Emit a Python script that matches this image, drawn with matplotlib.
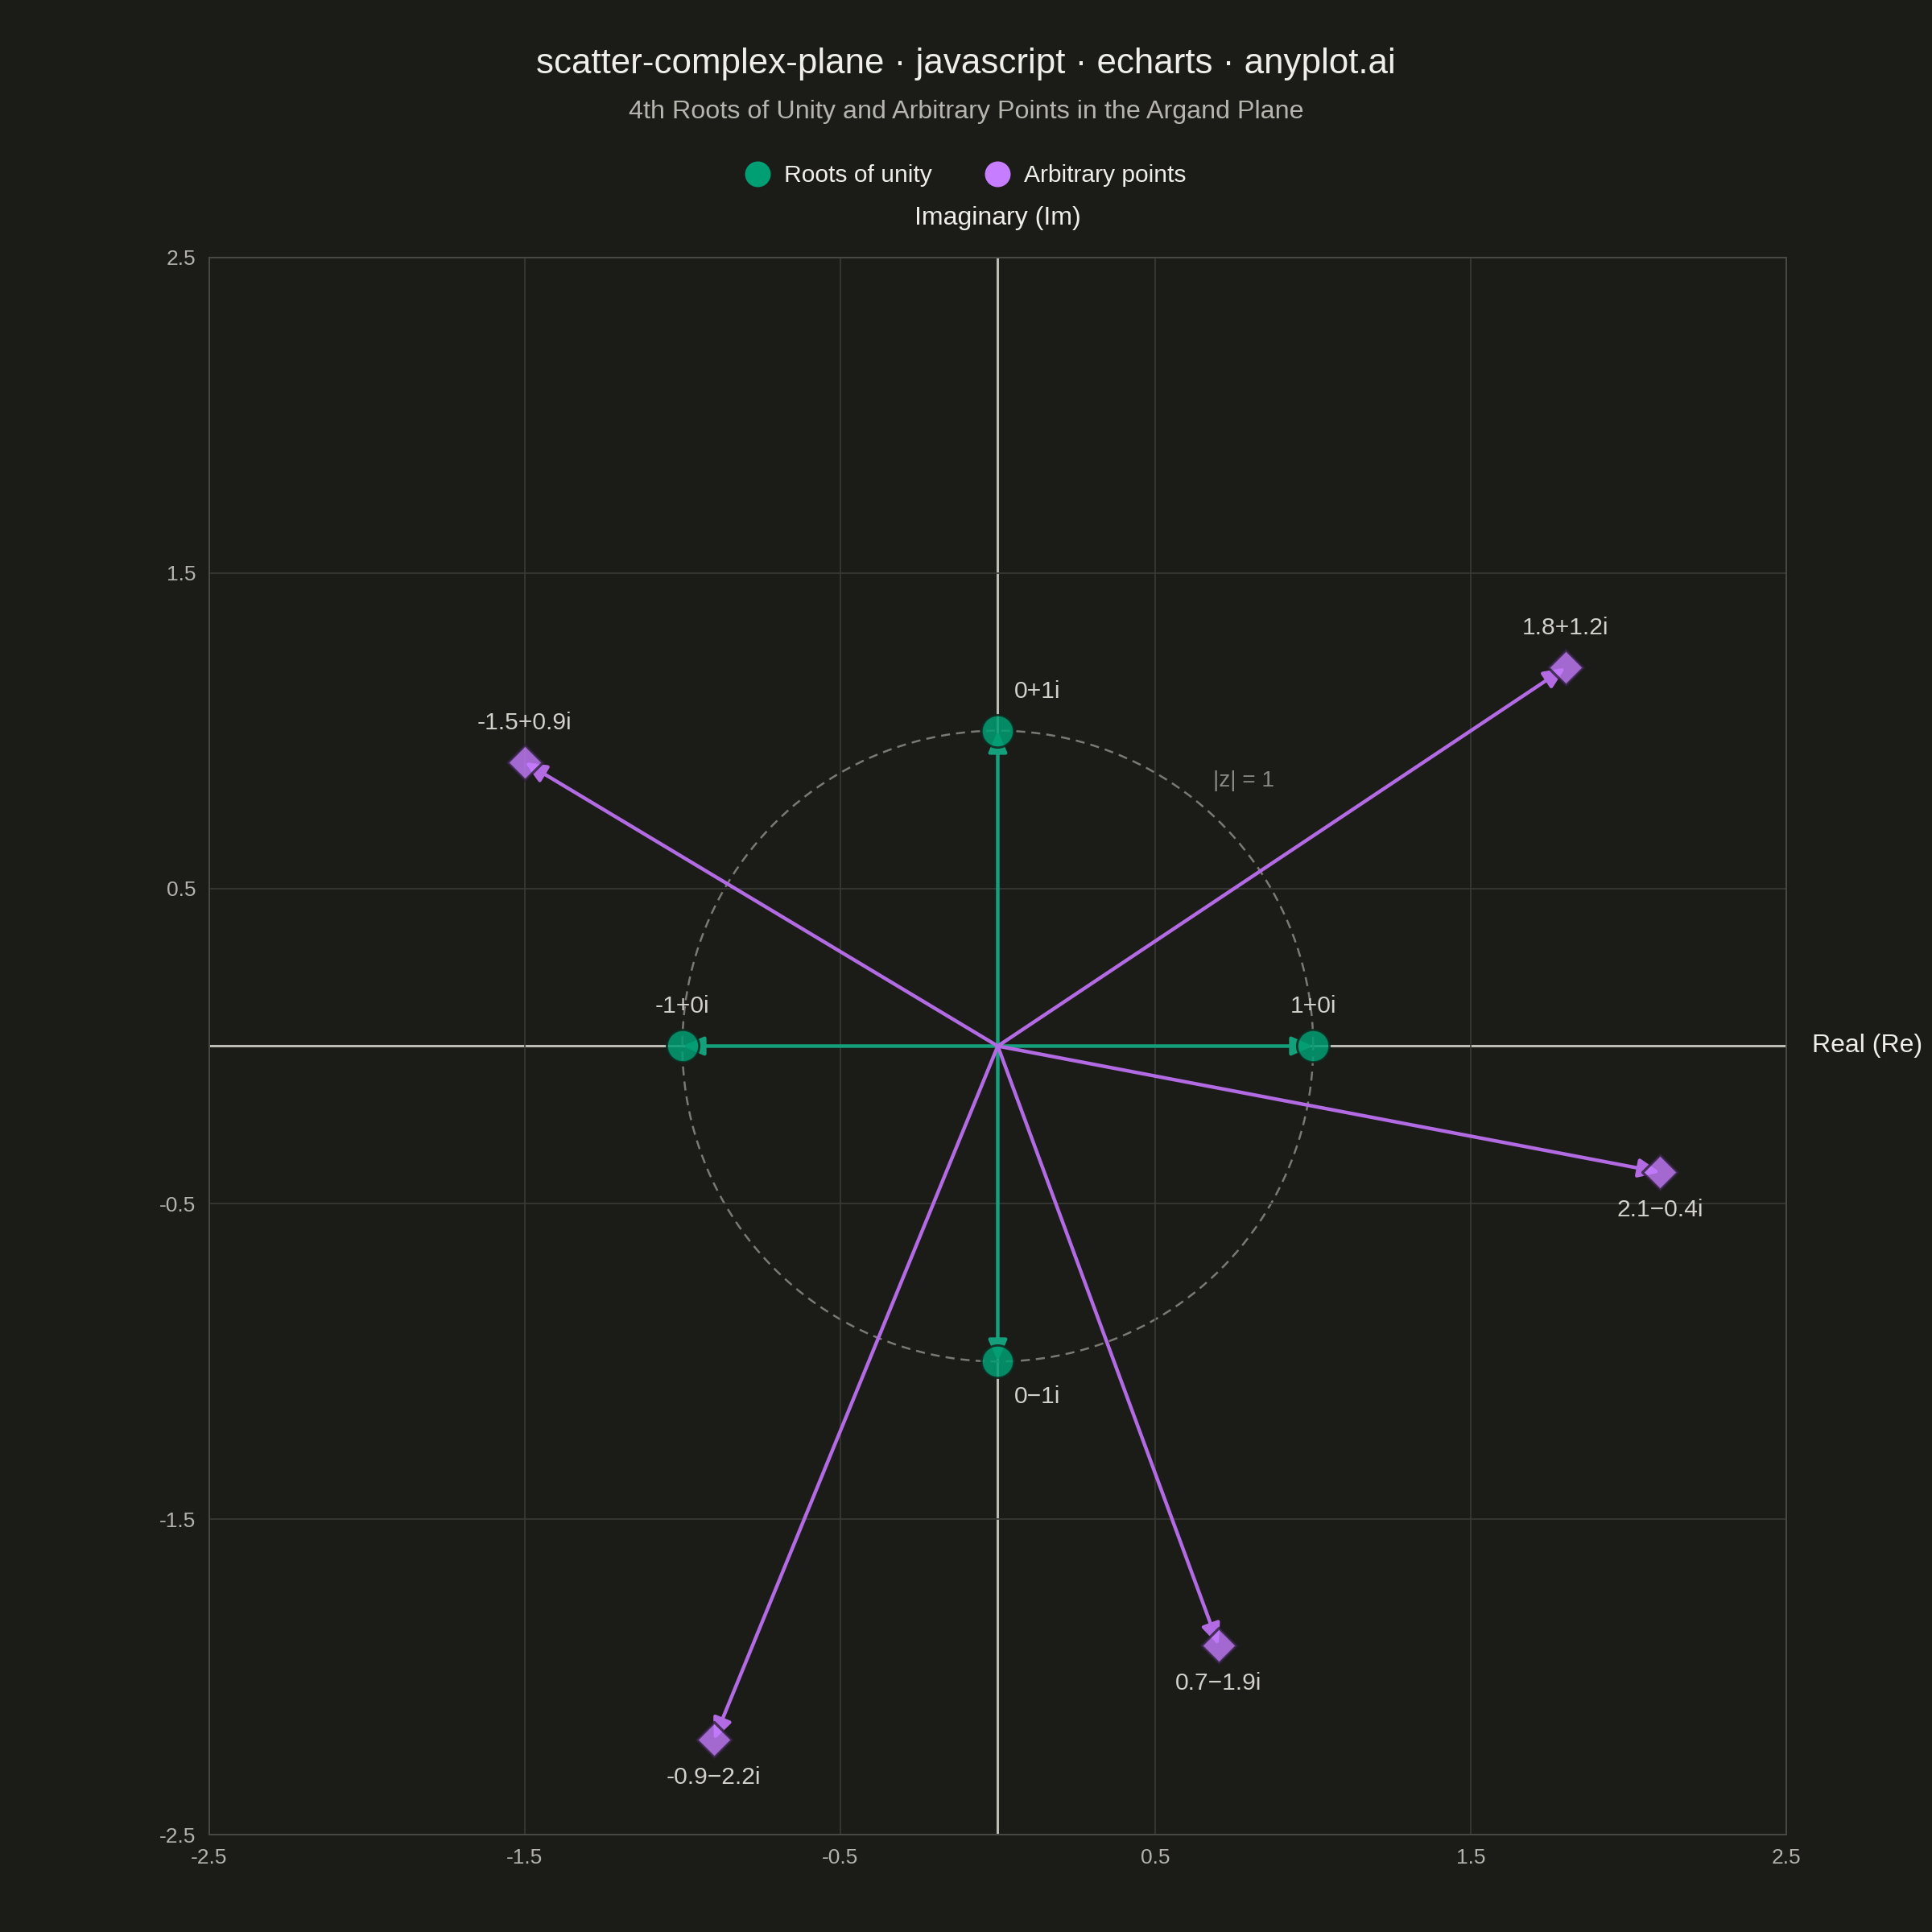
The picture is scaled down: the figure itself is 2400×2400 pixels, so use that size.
import matplotlib
matplotlib.use("Agg")
import matplotlib.pyplot as plt
from matplotlib.lines import Line2D
import numpy as np

plt.rcParams['font.family'] = ['Liberation Sans', 'DejaVu Sans']

# data
roots_re = [1, 0, -1, 0]
roots_im = [0, 1, 0, -1]
roots_lbl = ["1+0i", "0+1i", "-1+0i", "0\u22121i"]

pts_re = [1.8, -1.5, 2.1, 0.7, -0.9]
pts_im = [1.2, 0.9, -0.4, -1.9, -2.2]
pts_lbl = ["1.8+1.2i", "-1.5+0.9i", "2.1\u22120.4i", "0.7\u22121.9i", "-0.9\u22122.2i"]

ticks = [-2.5, -1.5, -0.5, 0.5, 1.5, 2.5]
tick_lbl = ["-2.5", "-1.5", "-0.5", "0.5", "1.5", "2.5"]

BG = "#1b1b18"
GREEN = "#009E73"
PURPLE = "#C77DFF"
DPI = 200
px = 72.0 / DPI  # points per pixel

fig = plt.figure(figsize=(12, 12), dpi=DPI, facecolor=BG)
ax = fig.add_axes([0.1083, 0.0504, 0.8163, 0.8163], facecolor=BG)

ax.set_xlim(-2.5, 2.5)
ax.set_ylim(-2.5, 2.5)
ax.set_xticks(ticks)
ax.set_yticks(ticks)
ax.set_xticklabels(tick_lbl)
ax.set_yticklabels(tick_lbl)
ax.tick_params(length=0, labelsize=9.5, colors="#b3b2ab", pad=6)
ax.grid(True, color="#3a3a36", lw=0.6, zorder=0)
for s in ax.spines.values():
    s.set_color("#4a4a44")
    s.set_linewidth(0.7)

# zero axes
ax.axhline(0, color="#bdbcb4", lw=1.1, zorder=1)
ax.axvline(0, color="#bdbcb4", lw=1.1, zorder=1)

# unit circle
t = np.linspace(0, 2 * np.pi, 400)
ax.plot(np.cos(t), np.sin(t), color="#7a7a74", lw=0.9, ls=(0, (4.5, 3)), zorder=1.5)
ax.text(0.78, 0.84, "|z| = 1", color="#8a8a84", fontsize=10.1, ha="center", va="center")

# vectors
def vec(x, y, c, lw):
    ax.annotate("", xy=(x, y), xytext=(0, 0),
                arrowprops=dict(arrowstyle="-|>,head_length=0.8,head_width=0.35",
                                color=c, lw=lw, shrinkA=0, shrinkB=0,
                                mutation_scale=10),
                zorder=3)

for x, y in zip(roots_re, roots_im):
    vec(x, y, "#14a07a", 1.6)
for x, y in zip(pts_re, pts_im):
    vec(x, y, "#b36be4", 1.6)

ax.scatter(roots_re, roots_im, s=14.5 ** 2, marker="o", color=GREEN, alpha=0.85,
           edgecolors="#12241d", linewidths=1, zorder=4)
ax.scatter(pts_re, pts_im, s=11.2 ** 2, marker="D", color=PURPLE, alpha=0.8,
           edgecolors="#2a1f33", linewidths=1.2, zorder=4)

# labels
lab_col = "#d2d1ca"
for x, y, s in zip(roots_re + pts_re, roots_im + pts_im, roots_lbl + pts_lbl):
    if x == 0:
        dy = 49 if y > 0 else -44
        ax.annotate(s, (x, y), xytext=(20 * px, dy * px), textcoords="offset points",
                    ha="left", va="center", fontsize=10.8, color=lab_col, zorder=5)
    else:
        dy = 49 if y >= 0 else -47
        ax.annotate(s, (x, y), xytext=(0, dy * px), textcoords="offset points",
                    ha="center", va="center", fontsize=10.8, color=lab_col, zorder=5)

# axis names
ax.annotate("Imaginary (Im)", (0, 1), xycoords=("data", "axes fraction"),
            xytext=(0, 49 * px), textcoords="offset points",
            ha="center", va="center", fontsize=11.5, color="#efeee8")
ax.annotate("Real (Re)", (1, 0), xycoords=("axes fraction", "data"),
            xytext=(32 * px, 0), textcoords="offset points",
            ha="left", va="center", fontsize=11.5, color="#efeee8")

# titles
fig.text(0.5, 0.967, "scatter-complex-plane \u00b7 javascript \u00b7 echarts \u00b7 anyplot.ai",
         ha="center", va="center", fontsize=15.8, color="#efeee8")
fig.text(0.5, 0.942, "4th Roots of Unity and Arbitrary Points in the Argand Plane",
         ha="center", va="center", fontsize=11.6, color="#b5b4ad")

handles = [Line2D([], [], marker="o", ls="", color=GREEN, markersize=10.5, label="Roots of unity"),
           Line2D([], [], marker="o", ls="", color=PURPLE, markersize=10.5, label="Arbitrary points")]
fig.legend(handles=handles, loc="center", bbox_to_anchor=(0.5, 0.909), ncol=2,
           frameon=False, fontsize=10.8, labelcolor="#efeee8", handletextpad=0.6,
           columnspacing=2.2, handlelength=1.0)

fig.savefig("out.png", dpi=DPI, facecolor=BG)
